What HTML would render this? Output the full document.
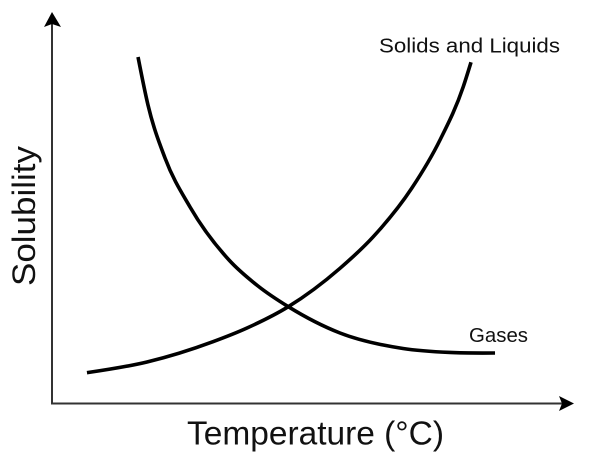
<!DOCTYPE html>
<html>
<head>
<meta charset="utf-8">
<style>
html,body{margin:0;padding:0;background:#fff;width:600px;height:455px;overflow:hidden}
svg{display:block}
text{font-family:"Liberation Sans",sans-serif;fill:#111}
</style>
</head>
<body>
<svg id="chart" width="600" height="455" viewBox="0 0 600 455" xmlns="http://www.w3.org/2000/svg">
  <rect width="600" height="455" fill="#fff"/>
  <line x1="52" y1="404" x2="52" y2="24" stroke="#333" stroke-width="2"/>
  <line x1="51" y1="403.5" x2="562" y2="403.5" stroke="#333" stroke-width="2"/>
  <polygon points="52,12 61,27 52,24 44,27" fill="#000"/>
  <polygon points="574,403.5 559,396 562,403.5 559,411" fill="#000"/>
  <text transform="translate(35,286) rotate(-90)" font-size="32" textLength="140" lengthAdjust="spacingAndGlyphs">Solubility</text>
  <text x="187" y="444.5" font-size="33" textLength="257" lengthAdjust="spacingAndGlyphs">Temperature (°C)</text>
  <text x="379" y="52.5" font-size="20.5" textLength="181" lengthAdjust="spacingAndGlyphs">Solids and Liquids</text>
  <text x="469" y="342" font-size="20.5" textLength="59" lengthAdjust="spacingAndGlyphs">Gases</text>
</svg>
<script>
const solidsTemp = [6.70, 18.20, 30.84, 37.36, 45.27, 55.17, 61.55, 68.91, 74.33, 78.79, 80.27];
const solidsSol = [7.75, 10.49, 15.68, 19.18, 24.63, 34.45, 42.53, 54.91, 67.26, 80.90, 87.14];
const gasesTemp = [16.48, 18.39, 21.65, 26.44, 33.91, 39.46, 45.27, 55.17, 67.24, 76.25, 84.87];
const gasesSol = [88.49, 76.21, 62.66, 50.13, 36.57, 29.92, 24.63, 17.90, 13.94, 12.92, 12.79];

function xScale(t) { return 52 + t * 5.22; }
function yScale(v) { return 403 - v * 3.91; }

function smoothPath(ts, vs) {
  const xs = ts.map(xScale);
  const ys = vs.map(yScale);
  const n = xs.length;
  const h = [], s = [], m = [];
  for (let i = 0; i < n - 1; i++) {
    h.push(xs[i + 1] - xs[i]);
    s.push((ys[i + 1] - ys[i]) / h[i]);
  }
  for (let i = 1; i < n - 1; i++) {
    m[i] = (s[i - 1] * h[i] + s[i] * h[i - 1]) / (h[i - 1] + h[i]);
  }
  m[0] = (3 * s[0] - m[1]) / 2;
  m[n - 1] = (3 * s[n - 2] - m[n - 2]) / 2;
  let d = 'M' + xs[0].toFixed(2) + ',' + ys[0].toFixed(2);
  for (let i = 0; i < n - 1; i++) {
    const d3 = h[i] / 3;
    d += 'C' + (xs[i] + d3).toFixed(2) + ',' + (ys[i] + m[i] * d3).toFixed(2) + ' ' +
      (xs[i + 1] - d3).toFixed(2) + ',' + (ys[i + 1] - m[i + 1] * d3).toFixed(2) + ' ' +
      xs[i + 1].toFixed(2) + ',' + ys[i + 1].toFixed(2);
  }
  return d;
}

const svg = document.getElementById('chart');

const solidsLine = document.createElementNS('http://www.w3.org/2000/svg', 'path');


solidsLine.setAttribute('d', smoothPath(solidsTemp, solidsSol));
solidsLine.setAttribute('fill', 'none');
solidsLine.setAttribute('stroke', '#000');
solidsLine.setAttribute('stroke-width', '3.6');
svg.appendChild(solidsLine);

const gasesLine = document.createElementNS('http://www.w3.org/2000/svg', 'path');


gasesLine.setAttribute('d', smoothPath(gasesTemp, gasesSol));
gasesLine.setAttribute('fill', 'none');
gasesLine.setAttribute('stroke', '#000');
gasesLine.setAttribute('stroke-width', '3.6');
svg.appendChild(gasesLine);
</script>
</body>
</html>
